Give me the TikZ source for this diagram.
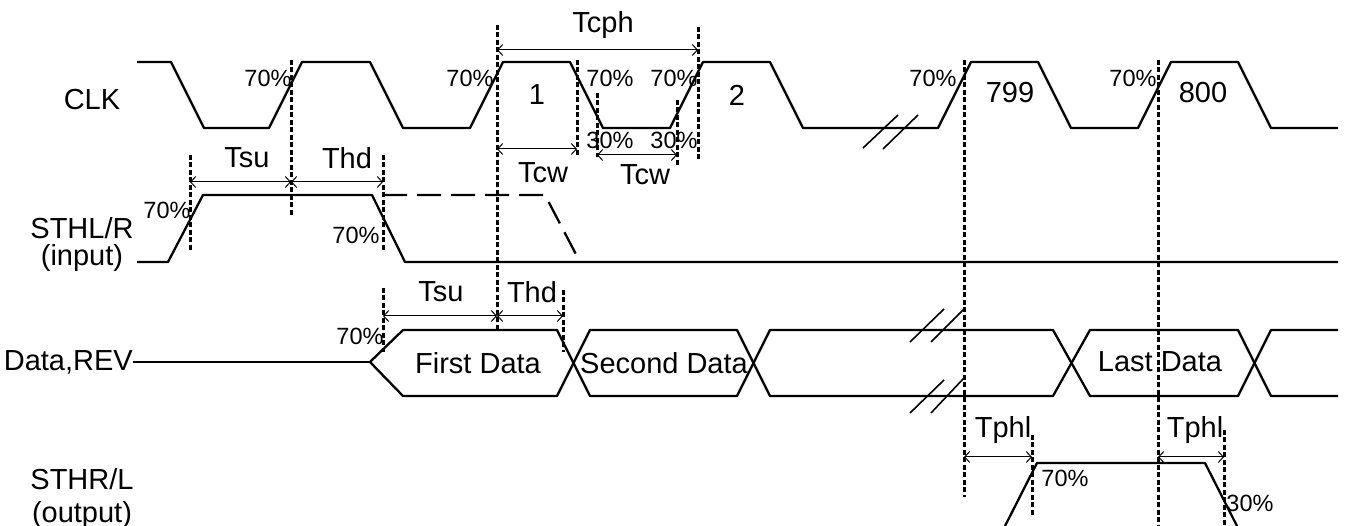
\documentclass[tikz,border=0pt]{standalone}
\usepackage{fontspec}
\setmainfont{Liberation Sans}
\usetikzlibrary{arrows.meta}
\begin{document}
\begin{tikzpicture}[x=1pt,y=-1pt,
 wave/.style={line width=2.3pt,line join=round},
 brk/.style={line width=1.6pt},
 guide/.style={line width=3pt,dash pattern=on 5pt off 2.5pt},
 dim/.style={line width=1pt,{Straight Barb[length=5pt,width=11pt]}-{Straight Barb[length=5pt,width=11pt]}},
 lbl/.style={font=\fontsize{29}{32}\selectfont,inner sep=0pt},
 pct/.style={font=\fontsize{23.5}{26}\selectfont,inner sep=0pt}]
\useasboundingbox (0,0) rectangle (1345,526);
\fill[white] (0,0) rectangle (1345,526);

% signal names
\node[lbl] (nclk) at (92,100) {CLK};
\node[lbl] (nsthl) at (82,228) {STHL/R};
\node[lbl] (ninp) at (82,258) {(input)};
\node[lbl,anchor=east] (ndata) at (133,362) {Data,REV};
\node[lbl] (nsthr) at (82,479) {STHR/L};
\node[lbl] (nout) at (82,515) {(output)};

% CLK
\draw[wave] (137,62) -- (171,62) -- (204,128) -- (269,128) -- (302,62) -- (370,62) -- (403,128) -- (470,128) -- (503,62) -- (570,62) -- (603,128) -- (670,128) -- (703,62) -- (770,62) -- (803,128) -- (938,128) -- (971,62) -- (1038,62) -- (1071,128) -- (1138,128) -- (1171,62) -- (1238,62) -- (1271,128) -- (1338,128);
\draw[brk] (863,148) -- (898,115) (883,149) -- (918,115);
\node[lbl] (c1) at (537,95) {1};
\node[lbl] (c2) at (737,95) {2};
\node[lbl] (c799) at (1010,93) {799};
\node[lbl] (c800) at (1203,93) {800};

% STHL/R
\draw[wave] (137,262) -- (168,262) -- (203,195) -- (372,195) -- (405,262) -- (1338,262);
\draw[line width=2.3pt,dash pattern=on 24pt off 10pt] (383,195) -- (545,195) -- (580,262);

% Data,REV
\draw[wave] (ndata.east) -- (370,362);
\draw[wave] (370,362) -- (403,330) -- (557,330) -- (590,396) -- (737,396) -- (770,330) -- (1053,330) -- (1090,396) -- (1238,396) -- (1271,330) -- (1338,330);
\draw[wave] (370,362) -- (403,396) -- (557,396) -- (590,330) -- (737,330) -- (770,396) -- (1053,396) -- (1090,330) -- (1238,330) -- (1271,396) -- (1338,396);
\draw[brk] (910,342) -- (944,309) (931,342) -- (964,309) (910,413) -- (944,380) (931,413) -- (964,378);
\node[lbl] (d1) at (478,363) {First Data};
\node[lbl] (d2) at (664,363) {Second Data};
\node[lbl] (d3) at (1160,362) {Last Data};

% STHR/L
\draw[wave] (1005,526) -- (1037,463) -- (1205,463) -- (1237,526);

% percentages
\node[pct] (p1) at (268,78) {70\%};
\node[pct] (p2) at (470,78) {70\%};
\node[pct] (p3) at (610,78) {70\%};
\node[pct] (p4) at (674,78) {70\%};
\node[pct] (p5) at (933,78) {70\%};
\node[pct] (p6) at (1133,78) {70\%};
\node[pct] (p7) at (610,140) {30\%};
\node[pct] (p8) at (674,140) {30\%};
\node[pct] (p9) at (167,210) {70\%};
\node[pct] (p10) at (356,235) {70\%};
\node[pct] (p11) at (360,336) {70\%};
\node[pct] (p12) at (1065,478) {70\%};
\node[pct] (p13) at (1250,503) {30\%};

% guides
\draw[guide] (291,60) -- (291,215);
\draw[guide] (190,155) -- (190,250);
\draw[guide] (383,155) -- (383,250);
\draw[guide] (497,25) -- (497,330);
\draw[guide] (577,60) -- (577,157);
\draw[guide] (597,93) -- (597,157);
\draw[guide] (677,100) -- (677,165);
\draw[guide] (698,27) -- (698,160);
\draw[guide] (964,60) -- (964,497);
\draw[guide] (1158,60) -- (1158,526);
\draw[guide] (383,288) -- (383,352);
\draw[guide] (563,290) -- (563,352);
\draw[guide] (1032,435) -- (1032,517);
\draw[guide] (1224,430) -- (1224,526);

% dimension coordinates
\coordinate (a1) at (190,182); \coordinate (a2) at (291,182); \coordinate (a3) at (383,182);
\coordinate (b1) at (497,50); \coordinate (b2) at (698,50);
\coordinate (e1) at (497,149); \coordinate (e2) at (577,149);
\coordinate (f1) at (597,155); \coordinate (f2) at (677,155);
\coordinate (g1) at (383,316); \coordinate (g2) at (497,316); \coordinate (g3) at (563,316);
\coordinate (h1) at (964,457); \coordinate (h2) at (1032,457);
\coordinate (k1) at (1158,457); \coordinate (k2) at (1224,457);

\draw[dim] (a1) -- (a2);
\draw[dim] (a2) -- (a3);
\draw[dim] (b1) -- (b2);
\draw[dim] (e1) -- (e2);
\draw[dim] (f1) -- (f2);
\draw[dim] (g1) -- (g2);
\draw[dim] (g2) -- (g3);
\draw[dim] (h1) -- (h2);
\draw[dim] (k1) -- (k2);

\node[lbl] (tsu1) at (247,158) {Tsu};
\node[lbl] (thd1) at (347,158) {Thd};
\node[lbl] (tcph) at (603,25) {Tcph};
\node[lbl] (tcw1) at (543,173) {Tcw};
\node[lbl] (tcw2) at (645,175) {Tcw};
\node[lbl] (tsu2) at (441,292) {Tsu};
\node[lbl] (thd2) at (532,292) {Thd};
\node[lbl] (tphl1) at (1003,430) {Tphl};
\node[lbl] (tphl2) at (1195,430) {Tphl};
\end{tikzpicture}
\end{document}
